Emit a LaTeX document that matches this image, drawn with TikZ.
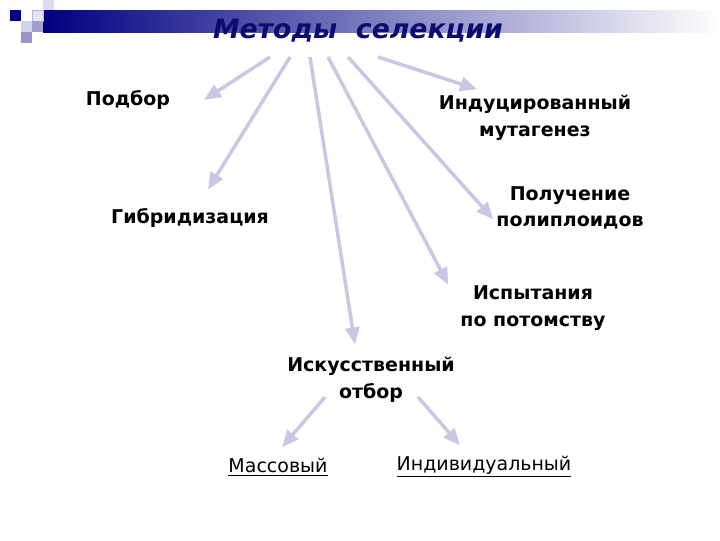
\documentclass[tikz,border=0pt]{standalone}
\usepackage{fontspec}
\setmainfont{DejaVu Sans}
\usetikzlibrary{arrows.meta}
\definecolor{navy}{RGB}{0,0,128}
\definecolor{titleblue}{RGB}{12,12,112}
\definecolor{arrowgray}{RGB}{200,200,228}
\definecolor{paleblue}{RGB}{210,210,232}
\definecolor{midblue}{RGB}{150,150,200}
\begin{document}
\begin{tikzpicture}[x=0.025cm, y=-0.025cm]
      \tikzset{method/.style={font=\fontsize{13.5}{19}\selectfont\bfseries, align=center, inner sep=2pt}}
      \tikzset{kind/.style={font=\fontsize{13.5}{19}\selectfont, inner sep=2pt}}
      \tikzset{arr/.style={draw=arrowgray, line width=2.5pt, -{Triangle[length=12pt,width=10pt]}}}
      \useasboundingbox (0,0) rectangle (720,540);
%% Header
      \shade[left color=navy, right color=white] (43,10) rectangle (720,32);
      \fill[navy] (10,10) rectangle (21,21);
      \fill[paleblue] (21,21) rectangle (32,32);
      \fill[midblue] (21,32) rectangle (32,43);
      \filldraw[fill=paleblue!60, draw=midblue!70] (32,10) rectangle (43,21);
      \fill[midblue!90] (32,21) rectangle (43,32);
      \fill[paleblue!80] (43,0) rectangle (54,10);
      \node[font=\fontsize{19}{24}\selectfont\bfseries\itshape, text=titleblue] (title) at (358,31) {Методы\ \ селекции};
%% Methods
      \node[method] (podbor) at (128,100) {Подбор};
      \node[method] (gibrid) at (190,218) {Гибридизация};
      \node[method] (iskus) at (371,380) {Искусственный\\отбор};
      \node[method] (ispyt) at (533,308) {Испытания\\по потомству};
      \node[method] (poly) at (570,208) {Получение\\полиплоидов};
      \node[method] (mutag) at (535,118) {Индуцированный\\мутагенез};
      \node[kind] (mass) at (278,467) {\underline{Массовый}};
      \node[kind] (indiv) at (484,467) {\underline{Индивидуальный}};
%% Start points
      \coordinate (s1) at (270,57);
      \coordinate (s2) at (290,57);
      \coordinate (s3) at (310,57);
      \coordinate (s4) at (328,57);
      \coordinate (s5) at (348,57);
      \coordinate (s6) at (378,57);
      \coordinate (a1) at (325,397);
      \coordinate (a2) at (418,397);
%% Arrows
      \draw[arr] (s1) -- ([xshift=22]podbor.east);
      \draw[arr] (s2) -- ([shift={(18,-16)}]gibrid.north);
      \draw[arr] (s3) -- ([shift={(-16,-10)}]iskus.north);
      \draw[arr] (s4) -- ([shift={(-9,2)}]ispyt.north west);
      \draw[arr] (s5) -- ([yshift=-8]poly.west);
      \draw[arr] (s6) -- ([shift={(-58,-3)}]mutag.north);
      \draw[arr] (a1) -- ([shift={(4,-8)}]mass.north);
      \draw[arr] (a2) -- ([shift={(-24,-8)}]indiv.north);
\end{tikzpicture}
\end{document}
